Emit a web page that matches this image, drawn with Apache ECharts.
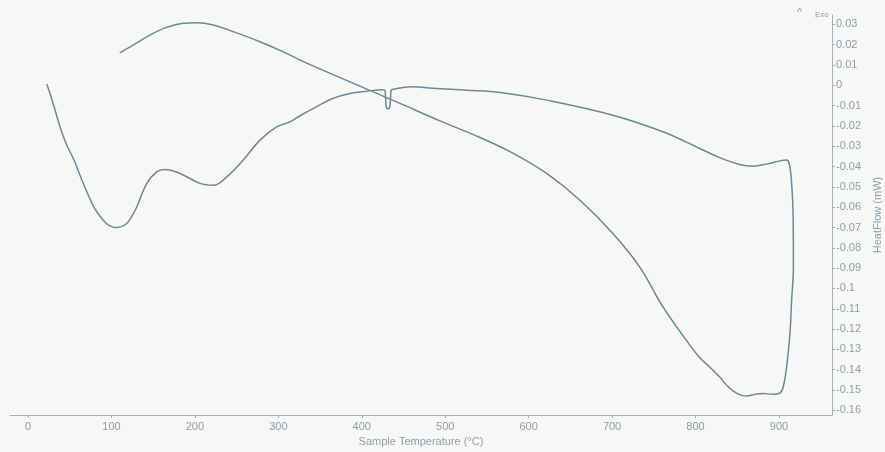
<!DOCTYPE html>
<html>
<head>
<meta charset="utf-8">
<style>
html,body{margin:0;padding:0;background:#f7f7f5;}
#chart{width:885px;height:452px;}
</style>
<script src="https://cdn.jsdelivr.net/npm/echarts@6/dist/echarts.min.js"></script>
</head>
<body>
<div id="chart"></div>
<script>
const temperature = [22.4, 24.5, 26.4, 29.2, 32.4, 38.3, 46, 55.1, 63, 71.1, 80.3, 90.2, 97, 104.3, 111, 118.3, 124, 130.3, 142.2, 154.2, 164.2, 182.2, 206.1, 222.1, 238.1, 258, 278, 298, 314, 326, 346, 365, 386, 406, 425, 427.5, 428.5, 429.5, 431.5, 433.5, 434.5, 435.5, 438, 446, 454, 461, 485, 526, 566, 622, 701, 761, 805, 829, 853, 869, 885, 901, 909, 912.3, 915.2, 917.1, 917.3, 915.2, 913.2, 909.2, 905.1, 901.1, 893.1, 881, 873, 861, 849, 837, 829, 817, 805, 789, 761, 733, 701, 661.5, 621.6, 581.6, 541.7, 493.7, 445.8, 385.9, 326, 310, 278, 246, 222, 202, 186, 166, 146, 126, 110];
const heatFlow = [0.0006, -0.0018, -0.0040, -0.0080, -0.0122, -0.0204, -0.0290, -0.0368, -0.0450, -0.0530, -0.0610, -0.0664, -0.0690, -0.0700, -0.0697, -0.0680, -0.0648, -0.0599, -0.0484, -0.0426, -0.0414, -0.0434, -0.0483, -0.0492, -0.0451, -0.0368, -0.0270, -0.0205, -0.0180, -0.0150, -0.0105, -0.0065, -0.0040, -0.0029, -0.0022, -0.0023, -0.0060, -0.0108, -0.0115, -0.0108, -0.0060, -0.0022, -0.0020, -0.0013, -0.0009, -0.0007, -0.0015, -0.0024, -0.0035, -0.0073, -0.0147, -0.0229, -0.0311, -0.0356, -0.0390, -0.0398, -0.0388, -0.0372, -0.0368, -0.0385, -0.0483, -0.0664, -0.0896, -0.1058, -0.1222, -0.1387, -0.1485, -0.1515, -0.1521, -0.1517, -0.1520, -0.1530, -0.1515, -0.1475, -0.1436, -0.1387, -0.1340, -0.1255, -0.1091, -0.0894, -0.0730, -0.0566, -0.0434, -0.0335, -0.0257, -0.0175, -0.0089, 0.0017, 0.0124, 0.0157, 0.0214, 0.0264, 0.0297, 0.0308, 0.0305, 0.0285, 0.0247, 0.0198, 0.0160];

const xTicks = [0, 100, 200, 300, 400, 500, 600, 700, 800, 900];
const yTicks = [0.03, 0.02, 0.01, 0, -0.01, -0.02, -0.03, -0.04, -0.05, -0.06, -0.07, -0.08, -0.09, -0.1, -0.11, -0.12, -0.13, -0.14, -0.15, -0.16];

const points = temperature.map((t, i) => [t, heatFlow[i]]);

const axisColor = '#9fb1bc';
const labelColor = '#8d9eab';

const chart = echarts.init(document.getElementById('chart'), null, {renderer: 'canvas'});
chart.setOption({
  backgroundColor: '#f7f7f5',
  animation: false,
  grid: {left: 10, right: 53, top: 15, bottom: 37, containLabel: false, outerBoundsMode: 'none'},
  xAxis: {
    type: 'value',
    min: -21.6,
    max: 963.6,
    name: 'Sample Temperature (°C)',
    nameLocation: 'middle',
    nameGap: 21,
    nameTextStyle: {color: labelColor, fontSize: 11, fontFamily: 'Liberation Sans'},
    axisLine: {show: true, onZero: false, lineStyle: {color: axisColor, width: 1}},
    axisTick: {show: true, length: 3, lineStyle: {color: axisColor}, customValues: xTicks},
    axisLabel: {color: labelColor, fontSize: 11, fontFamily: 'Liberation Sans', margin: 6, customValues: xTicks},
    splitLine: {show: false}
  },
  yAxis: {
    type: 'value',
    position: 'right',
    min: -0.1623,
    max: 0.0346,
    name: 'HeatFlow (mW)',
    nameLocation: 'middle',
    nameRotate: 90,
    nameGap: 38,
    nameTextStyle: {color: labelColor, fontSize: 11, fontFamily: 'Liberation Sans'},
    axisLine: {show: true, onZero: false, lineStyle: {color: axisColor, width: 1}},
    axisTick: {show: true, length: 3, lineStyle: {color: axisColor}, customValues: yTicks},
    axisLabel: {color: labelColor, fontSize: 11, fontFamily: 'Liberation Sans', margin: 4, customValues: yTicks},
    splitLine: {show: false}
  },
  graphic: [
    {type: 'text', left: 797, top: 7, style: {text: '^', fill: '#8d9eab', font: '11px Liberation Sans'}},
    {type: 'text', left: 815, top: 11, style: {text: 'Exo', fill: '#8d9eab', font: '8px Liberation Sans'}}
  ],
  series: [{
    type: 'line',
    data: points,
    showSymbol: false,
    smooth: 0.4,
    lineStyle: {color: '#6c8796', width: 1.5},
    z: 3
  }]
});
</script>
</body>
</html>
